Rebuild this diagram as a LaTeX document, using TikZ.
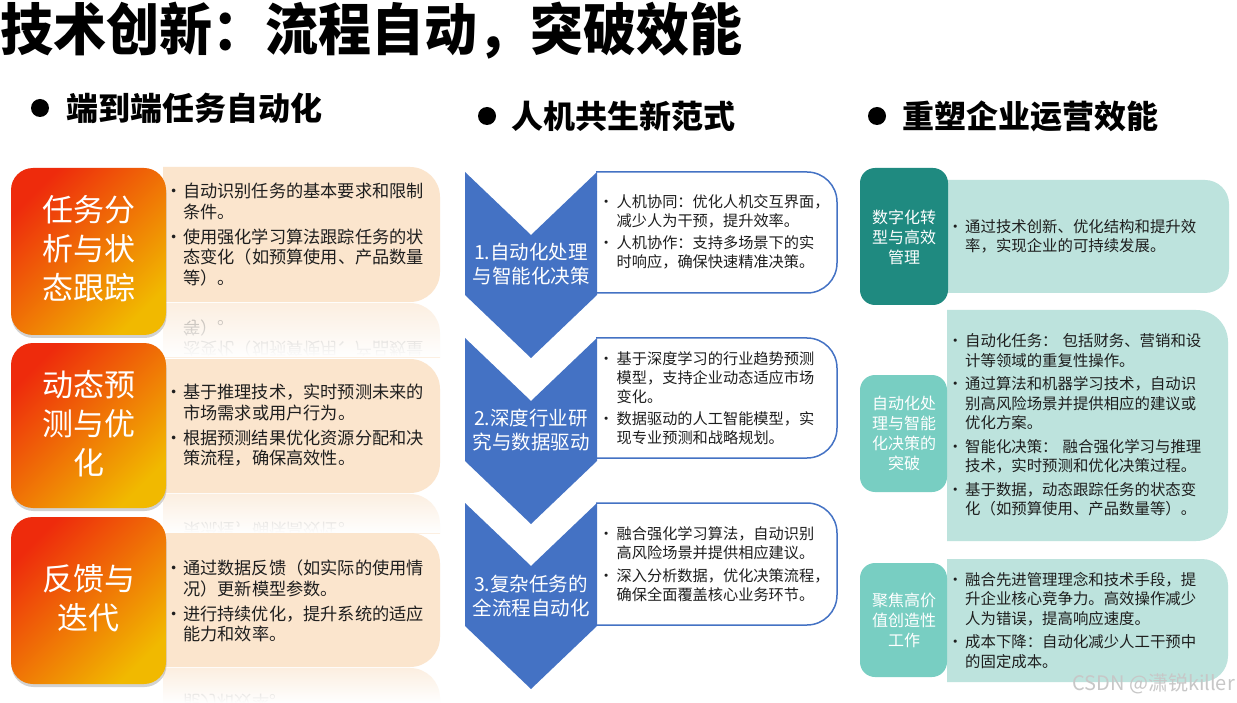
\documentclass[tikz,border=0pt]{standalone}
\usepackage{fontspec}
\setmainfont{Noto Sans CJK SC}
\usetikzlibrary{shadows,fadings}
\definecolor{oRed}{HTML}{EE2B0C}
\definecolor{oMid}{HTML}{F27A06}
\definecolor{oYel}{HTML}{F1B900}
\definecolor{peach}{HTML}{FBE5CD}
\definecolor{cBlue}{HTML}{4472C4}
\definecolor{tDark}{HTML}{1F8A80}
\definecolor{tMid}{HTML}{78CEC2}
\definecolor{tLight}{HTML}{BDE3DD}
\definecolor{txt}{HTML}{1E1E1E}
\newlength{\bw}
\newcommand{\brk}{\hfil\break}
\newcommand{\bitem}[1]{\begingroup\let\\\brk\hangindent=\bw\hangafter=1\makebox[\bw][c]{•}#1\par\endgroup}
\newcommand{\rrbox}[6]{\begin{scope}\clip (#2,#3-4) rectangle (#4+4,#5+4);\path[#1,rounded corners=#6] (#2-#6-4,#3) rectangle (#4,#5);\end{scope}}
\newcommand{\LA}{\bitem{自动识别任务的基本要求和限制\\条件。}\bitem{使用强化学习算法跟踪任务的状\\态变化（如预算使用、产品数量\\等）。}}
\newcommand{\LB}{\bitem{基于推理技术，实时预测未来的\\市场需求或用户行为。}\bitem{根据预测结果优化资源分配和决\\策流程，确保高效性。}}
\newcommand{\LC}{\bitem{通过数据反馈（如实际的使用情\\况）更新模型参数。}\bitem{进行持续优化，提升系统的适应\\能力和效率。}}
\newcommand{\refl}[4]{%
 \begin{scope}
  \clip (163,#1) rectangle (441,#1+#2);
  \fill[peach, fill opacity=0.6, rounded corners=30] (120,#1) rectangle (440,#1+140);
  \begin{scope}[shift={(0,2*#1)}, yscale=-1]
    \node[ltxt, text opacity=0.35, transform shape] at (165,#3) {#4};
  \end{scope}
  \fill[white, path fading=north] (160,#1) rectangle (442,#1+#2);
 \end{scope}}
\tikzset{
 hdr/.style={anchor=west, inner sep=0, font=\fontsize{32}{38}\selectfont\bfseries},
 dotb/.style={circle, fill=black, inner sep=0, minimum size=18},
 obox/.style={rounded corners=22, top color=oRed, middle color=oMid, bottom color=oYel, shading angle=45,
   drop shadow={opacity=0.35, shadow xshift=0.5pt, shadow yshift=-3pt}},
 otxt/.style={inner sep=0, align=center, text=white, font=\fontsize{31}{39}\selectfont},
 ctxt/.style={inner sep=0, align=center, text=white, font=\fontsize{19.5}{24}\selectfont},
 ttxt/.style={inner sep=0, align=center, text=white, font=\fontsize{16}{20}\selectfont},
 ltxt/.style={anchor=west, inner sep=0, text width=300, align=left, text=txt,
   font=\fontsize{17.2}{20.5}\selectfont, execute at begin node={\setlength{\parskip}{4.5pt}\setlength{\bw}{18pt}}},
 mtxt/.style={anchor=west, inner sep=0, text width=280, align=left, text=txt,
   font=\fontsize{15.2}{19}\selectfont, execute at begin node={\setlength{\parskip}{3.5pt}\setlength{\bw}{21pt}}},
 rtxt/.style={anchor=west, inner sep=0, text width=300, align=left, text=txt,
   font=\fontsize{15.4}{19.5}\selectfont, execute at begin node={\setlength{\parskip}{4pt}\setlength{\bw}{20pt}}},
 chev/.style={fill=cBlue},
}
\begin{document}
\begin{tikzpicture}[x=1pt,y=-1pt]
\useasboundingbox (0,0) rectangle (1237,703);
\fill[white] (0,0) rectangle (1237,703);
% title and headers
\node[anchor=west, inner sep=0, font=\fontsize{53}{60}\selectfont\bfseries, yscale=1.06, transform shape] (title) at (0,31) {技术创新：流程自动，突破效能};
\node[dotb] (d1) at (40,108) {};
\node[hdr] (h1) at (66,108) {端到端任务自动化};
\node[dotb] (d2) at (487,116) {};
\node[hdr] (h2) at (511,116) {人机共生新范式};
\node[dotb] (d3) at (877,116) {};
\node[hdr] (h3) at (902,116) {重塑企业运营效能};
% ---- left column
\refl{303}{54}{234.5}{\LA}
\refl{494}{39}{425.5}{\LB}
\refl{668}{35}{601}{\LC}
\rrbox{fill=peach}{163}{167}{440}{302}{30}
\rrbox{fill=peach}{163}{359}{440}{493}{30}
\rrbox{fill=peach}{163}{533}{440}{667}{30}
\path[obox] (11,168) rectangle (166,335);
\path[obox] (11,343) rectangle (166,508);
\path[obox] (11,517) rectangle (166,684);
\node[otxt] (o1) at (88.5,249) {任务分\\析与状\\态跟踪};
\node[otxt] (o2) at (88.5,424) {动态预\\测与优\\化};
\node[otxt] (o3) at (88.5,598) {反馈与\\迭代};
\node[ltxt] (l1) at (165,234.5) {\LA};
\node[ltxt] (l2) at (165,425.5) {\LB};
\node[ltxt] (l3) at (165,601) {\LC};
% ---- middle column
\rrbox{draw=cBlue, line width=1.5, fill=white}{596}{172}{837}{293}{30}
\rrbox{draw=cBlue, line width=1.5, fill=white}{596}{338}{837}{458}{30}
\rrbox{draw=cBlue, line width=1.5, fill=white}{596}{503}{837}{625}{30}
\fill[chev] (465,172) -- (531,235) -- (597,172) -- (597,295) -- (531,358) -- (465,295) -- cycle;
\fill[chev] (465,338) -- (531,401) -- (597,338) -- (597,461) -- (531,524) -- (465,461) -- cycle;
\fill[chev] (465,503) -- (531,566) -- (597,503) -- (597,626) -- (531,689) -- (465,626) -- cycle;
\node[ctxt] (c1) at (531,264.5) {1.自动化处理\\与智能化决策};
\node[ctxt] (c2) at (531,430) {2.深度行业研\\究与数据驱动};
\node[ctxt] (c3) at (531,596) {3.复杂任务的\\全流程自动化};
\node[mtxt] (m1) at (595.5,232) {\bitem{人机协同：优化人机交互界面，\\减少人为干预，提升效率。}\bitem{人机协作：支持多场景下的实\\时响应，确保快速精准决策。}};
\node[mtxt] (m2) at (595.5,398) {\bitem{基于深度学习的行业趋势预测\\模型，支持企业动态适应市场\\变化。}\bitem{数据驱动的人工智能模型，实\\现专业预测和战略规划。}};
\node[mtxt] (m3) at (595.5,564) {\bitem{融合强化学习算法，自动识别\\高风险场景并提供相应建议。}\bitem{深入分析数据，优化决策流程，\\确保全面覆盖核心业务环节。}};
% ---- right column
\rrbox{fill=tLight}{948}{180}{1229}{293}{24}
\rrbox{fill=tLight}{947}{310}{1228}{541}{32}
\rrbox{fill=tLight}{947}{559}{1228}{682}{26}
\fill[tDark, rounded corners=15] (860,168) rectangle (948,305);
\fill[tMid, rounded corners=15] (860,375) rectangle (947,492);
\fill[tMid, rounded corners=15] (860,563) rectangle (947,677);
\node[ttxt] (t1) at (904,237) {数字化转\\型与高效\\管理};
\node[ttxt] (t2) at (904,433) {自动化处\\理与智能\\化决策的\\突破};
\node[ttxt] (t3) at (904,620) {聚焦高价\\值创造性\\工作};
\node[rtxt] (r1) at (945,236.5) {\bitem{通过技术创新、优化结构和提升效\\率，实现企业的可持续发展。}};
\node[rtxt] (r2) at (945,425) {\bitem{自动化任务： 包括财务、营销和设\\计等领域的重复性操作。}\bitem{通过算法和机器学习技术，自动识\\别高风险场景并提供相应的建议或\\优化方案。}\bitem{智能化决策： 融合强化学习与推理\\技术，实时预测和优化决策过程。}\bitem{基于数据，动态跟踪任务的状态变\\化（如预算使用、产品数量等）。}};
\node[rtxt] (r3) at (945,620.5) {\bitem{融合先进管理理念和技术手段，提\\升企业核心竞争力。高效操作减少\\人为错误，提高响应速度。}\bitem{成本下降：自动化减少人工干预中\\的固定成本。}};
\node[anchor=east, inner sep=0, font=\fontsize{20}{24}\selectfont, text=black!22] (wm) at (1235,684) {CSDN @潇锐killer};
\end{tikzpicture}
\end{document}
